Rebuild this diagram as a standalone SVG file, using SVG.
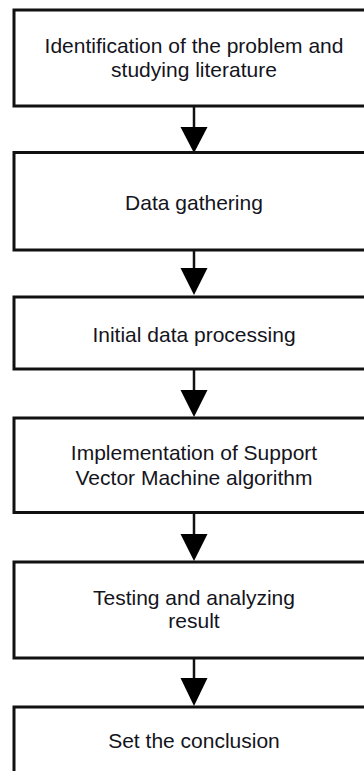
<svg xmlns="http://www.w3.org/2000/svg" width="364" height="771" viewBox="0 0 364 771">
<style>
.box{fill:#fff;stroke:#111;stroke-width:3}
.lbl{font-family:"Liberation Sans",Arial,sans-serif;font-size:21px;fill:#141420;text-anchor:middle}
.ln{stroke:#111;stroke-width:2.5;fill:none}
.hd{fill:#000}
</style>
<rect width="364" height="771" fill="#fff"/>
<g id="connectors">
<line class="ln" x1="194" y1="106" x2="194" y2="130"/><polygon class="hd" points="180.5,127 207.5,127 194,153"/>
<line class="ln" x1="194" y1="250" x2="194" y2="270"/><polygon class="hd" points="180.5,268 207.5,268 194,295"/>
<line class="ln" x1="194" y1="369" x2="194" y2="392"/><polygon class="hd" points="180.5,390 207.5,390 194,417"/>
<line class="ln" x1="194" y1="512" x2="194" y2="536"/><polygon class="hd" points="180.5,534 207.5,534 194,561"/>
<line class="ln" x1="194" y1="658" x2="194" y2="680"/><polygon class="hd" points="180.5,678 207.5,678 194,706"/>
</g>
<g id="n1"><rect class="box" x="14" y="10" width="362" height="96"/><text class="lbl" x="194" y="53">Identification of the problem and</text><text class="lbl" x="194" y="77">studying literature</text></g>
<g id="n2"><rect class="box" x="14" y="152.5" width="362" height="97.5"/><text class="lbl" x="194" y="210">Data gathering</text></g>
<g id="n3"><rect class="box" x="14" y="297" width="362" height="72"/><text class="lbl" x="194" y="342">Initial data processing</text></g>
<g id="n4"><rect class="box" x="14" y="418" width="362" height="94.5"/><text class="lbl" x="194" y="460">Implementation of Support</text><text class="lbl" x="194" y="485">Vector Machine algorithm</text></g>
<g id="n5"><rect class="box" x="14" y="562" width="362" height="96"/><text class="lbl" x="194" y="605">Testing and analyzing</text><text class="lbl" x="194" y="628">result</text></g>
<g id="n6"><rect class="box" x="14" y="707" width="362" height="100"/><text class="lbl" x="194" y="748">Set the conclusion</text></g>
</svg>
